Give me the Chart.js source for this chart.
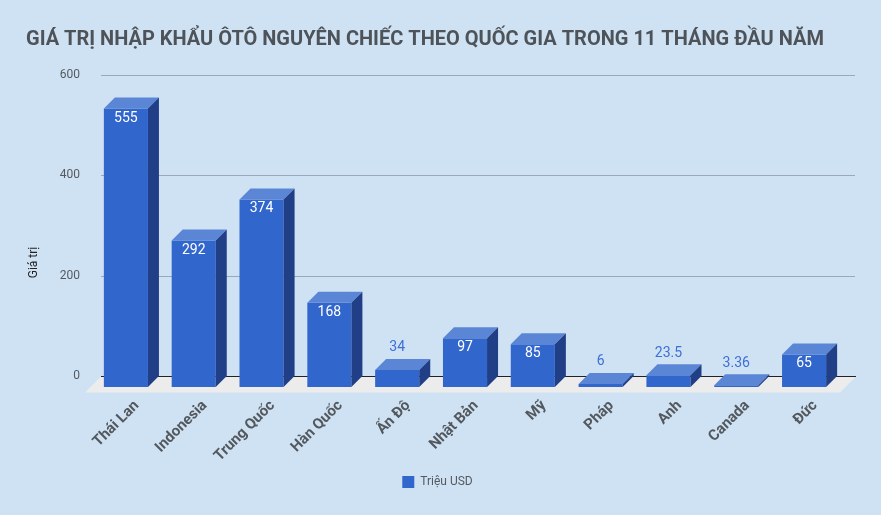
<!DOCTYPE html>
<html>
<head>
<meta charset="utf-8">
<script src="https://cdn.jsdelivr.net/npm/chart.js@4.4.1/dist/chart.umd.min.js"></script>
<style>
  html, body { margin: 0; padding: 0; background: #cfe2f3; }
  #wrap { width: 881px; height: 515px; }
</style>
</head>
<body>
<div id="wrap"><canvas id="myChart"></canvas></div>
<script>
// data block
var categories = ['Thái Lan', 'Indonesia', 'Trung Quốc', 'Hàn Quốc', 'Ấn Độ', 'Nhật Bản', 'Mỹ', 'Pháp', 'Anh', 'Canada', 'Đức'];
var values = [555, 292, 374, 168, 34, 97, 85, 6, 23.5, 3.36, 65];
var valueLabels = ['555', '292', '374', '168', '34', '97', '85', '6', '23.5', '3.36', '65'];
var yTicks = [0, 200, 400, 600];
var yTitle = 'Giá trị';

var DX = 11, DY = 11; // depth of the 3d boxes
var FRONT = '#3166cc', TOP = '#5b86d6', SIDE = '#213f86';

// 3d boxes, floor, grid and labels
var bar3d = {
    id: 'bar3d',
    beforeDatasetsDraw: function (chart) {
        var ctx = chart.ctx, y = chart.scales.y, a = chart.chartArea;
        var left = a.left - 2, right = a.right + 6;
        ctx.save();
        // grid
        ctx.strokeStyle = '#9aa8b7';
        ctx.lineWidth = 1;
        yTicks.forEach(function (t) {
            var py = Math.round(y.getPixelForValue(t)) + 0.5;
            ctx.beginPath();
            ctx.moveTo(left, py);
            ctx.lineTo(right, py);
            ctx.stroke();
        });
        // floor
        var y0 = Math.round(y.getPixelForValue(0)) + 0.5;
        ctx.fillStyle = '#ececec';
        ctx.beginPath();
        ctx.moveTo(left, y0);
        ctx.lineTo(right + 1, y0);
        ctx.lineTo(right + 1 - 16, y0 + 16);
        ctx.lineTo(left - 16, y0 + 16);
        ctx.closePath();
        ctx.fill();
        ctx.strokeStyle = '#222';
        ctx.beginPath();
        ctx.moveTo(left, y0);
        ctx.lineTo(right + 1, y0);
        ctx.stroke();
        // y axis title
        ctx.translate(34, (a.top + a.bottom) / 2 + 37);
        ctx.rotate(-Math.PI / 2);
        ctx.font = '12px Roboto';
        ctx.fillStyle = '#222';
        ctx.textAlign = 'center';
        ctx.textBaseline = 'middle';
        ctx.fillText(yTitle, 0, 0);
        ctx.restore();
        // front faces are drawn by chart.js, pushed forward
        ctx.save();
        ctx.translate(-DX, DY);
    },
    afterDatasetsDraw: function (chart) {
        var ctx = chart.ctx;
        ctx.restore();
        var meta = chart.getDatasetMeta(0);
        ctx.save();
        meta.data.forEach(function (el, i) {
            var xl = el.x - el.width / 2, xr = el.x + el.width / 2;
            var top = el.y, base = el.base;
            // top face
            ctx.fillStyle = TOP;
            ctx.beginPath();
            ctx.moveTo(xl - DX, top + DY);
            ctx.lineTo(xr - DX, top + DY);
            ctx.lineTo(xr, top);
            ctx.lineTo(xl, top);
            ctx.closePath();
            ctx.fill();
            // side face
            ctx.fillStyle = SIDE;
            ctx.beginPath();
            ctx.moveTo(xr - DX, top + DY);
            ctx.lineTo(xr, top);
            ctx.lineTo(xr, base);
            ctx.lineTo(xr - DX, base + DY);
            ctx.closePath();
            ctx.fill();
            // value label
            ctx.font = '14px Roboto';
            ctx.textAlign = 'center';
            ctx.textBaseline = 'middle';
            if (base - top > 25) {
                ctx.fillStyle = '#ffffff';
                ctx.fillText(valueLabels[i], el.x - DX, top + DY + 9.5);
            } else {
                ctx.fillStyle = '#3d6fd6';
                ctx.fillText(valueLabels[i], el.x - DX, top - 11);
            }
        });
        ctx.restore();
    }
};

var myCrt = document.getElementById('myChart');
var myChart = new Chart(myCrt, {
    type: 'bar',
    data: {
        labels: categories,
        datasets: [{
            label: 'Triệu USD',
            data: values,
            backgroundColor: FRONT,
            borderWidth: 0,
            categoryPercentage: 1,
            barPercentage: 0.65
        }]
    },
    options: {
        responsive: true,
        maintainAspectRatio: false,
        animation: false,
        layout: { padding: { left: 26, right: 32, top: 0, bottom: 17 } },
        scales: {
            x: {
                grid: { display: false, drawTicks: false },
                border: { display: false },
                ticks: {
                    autoSkip: false,
                    minRotation: 45,
                    maxRotation: 45,
                    padding: 21,
                    color: '#53585e',
                    font: { family: 'Roboto', size: 15, weight: 'bold' }
                },
                afterFit: function (s) { s.height = 90; }
            },
            y: {
                min: 0,
                max: 600,
                grid: { display: false, drawTicks: false },
                border: { display: false },
                ticks: {
                    stepSize: 200,
                    padding: 23,
                    color: '#555a60',
                    font: { family: 'Roboto', size: 12 }
                },
                afterFit: function (s) { s.width = 77; }
            }
        },
        plugins: {
            title: {
                display: true,
                text: 'GIÁ TRỊ NHẬP KHẨU ÔTÔ NGUYÊN CHIẾC THEO QUỐC GIA TRONG 11 THÁNG ĐẦU NĂM',
                align: 'start',
                color: '#4d5359',
                padding: { top: 28, bottom: 23 },
                font: { family: 'Roboto', size: 20, weight: 'bold' }
            },
            legend: {
                position: 'bottom',
                labels: {
                    boxWidth: 12,
                    boxHeight: 12,
                    padding: 10,
                    color: '#555a60',
                    font: { family: 'Roboto', size: 12 }
                }
            },
            tooltip: { enabled: false }
        }
    },
    plugins: [bar3d]
});
</script>
</body>
</html>
